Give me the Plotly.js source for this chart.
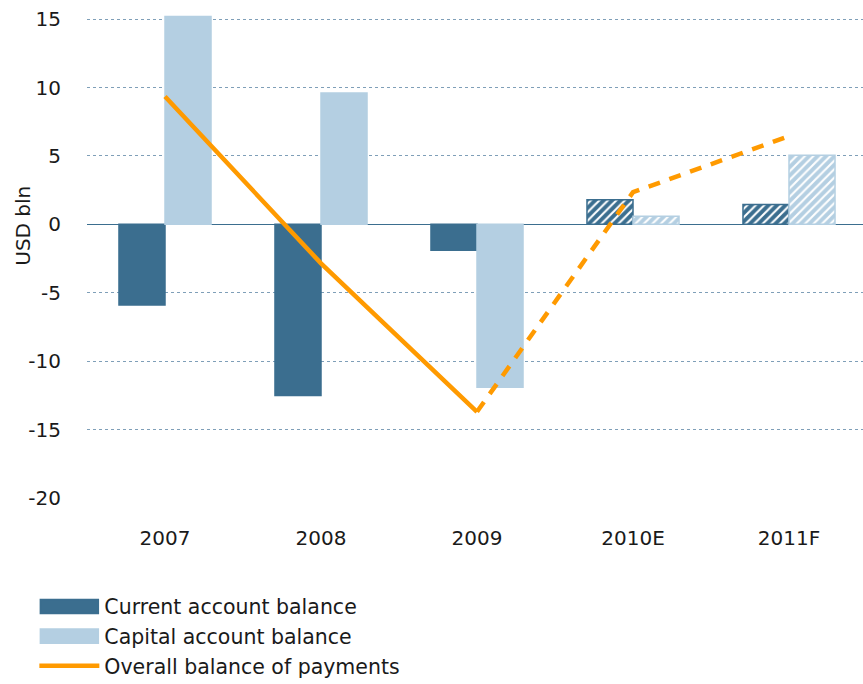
<!DOCTYPE html>
<html><head><meta charset="utf-8">
<script src="https://cdn.plot.ly/plotly-3.0.1.min.js"></script>
<style>html,body{margin:0;padding:0;background:#fff;overflow:hidden}#chart{width:867px;height:684px}</style>
</head><body><div id="chart"></div>
<script>
const categories = ["2007", "2008", "2009", "2010E", "2011F"];
const currentAccount = [-5.9, -12.5, -1.9, 1.8, 1.45];
const capitalAccount = [15.2, 9.6, -11.9, 0.6, 5.05];
const overallBalance = [9.35, -2.85, -13.7, 2.35, 6.45];
const forecastFlags = [false, false, false, true, true];
const yTicks = [15, 10, 5, 0, -5, -10, -15, -20];
const yTitle = "USD bln";

const DARK = "#3b6e8f", LIGHT = "#b4cfe2", ORANGE = "#ff9a00";
const patt = forecastFlags.map(f => f ? "/" : "");
const FONT = "DejaVu Sans, Verdana, sans-serif";

const solidLine = overallBalance.map((v, i) => i <= 2 ? v : null);
const dashLine = overallBalance.map((v, i) => i >= 2 ? v : null);

const traces = [
  {type: "bar", name: "Current account balance", x: categories, y: currentAccount,
   marker: {color: DARK, line: {color: DARK, width: 1.5},
            pattern: {shape: patt, fillmode: "replace", bgcolor: DARK, fgcolor: "#ffffff", size: 6, solidity: 0.35}},
   legendgroup: "a"},
  {type: "bar", name: "Capital account balance", x: categories, y: capitalAccount,
   marker: {color: LIGHT, line: {color: LIGHT, width: 1.5},
            pattern: {shape: patt, fillmode: "replace", bgcolor: LIGHT, fgcolor: "#ffffff", size: 6, solidity: 0.35}},
   legendgroup: "b"},
  {type: "scatter", mode: "lines", name: "Overall balance of payments", x: categories, y: solidLine,
   line: {color: ORANGE, width: 4.5}, legendgroup: "c"},
  {type: "scatter", mode: "lines", name: "Overall balance of payments (forecast)", x: categories, y: dashLine,
   line: {color: ORANGE, width: 4.5, dash: "12px,10px"}, showlegend: false, legendgroup: "c"}
];

const layout = {
  width: 867, height: 684,
  margin: {l: 87, r: 0, t: 0, b: 186, autoexpand: false},
  paper_bgcolor: "#fff", plot_bgcolor: "#fff",
  font: {family: FONT, size: 20, color: "#1a1a1a"},
  barmode: "group", bargap: 0.41, bargroupgap: 0,
  showlegend: true,
  legend: {x: -0.0675, xanchor: "left", y: -0.178, yanchor: "top", orientation: "v",
           traceorder: "normal", tracegroupgap: 11, itemwidth: 60,
           font: {family: FONT, size: 20.5, color: "#1a1a1a"}},
  xaxis: {type: "category", showgrid: false, zeroline: false, showline: false,
          ticks: "", ticklabelstandoff: 26, tickfont: {size: 20}, automargin: false},
  yaxis: {range: [-20, 16.4], tickvals: yTicks, ticktext: yTicks.map(String),
          showgrid: true, gridcolor: "#7f9fb8", griddash: "dot", gridwidth: 1,
          zeroline: true, zerolinecolor: DARK, zerolinewidth: 1, automargin: false,
          showline: false, ticks: "", ticklabelstandoff: 25, tickfont: {size: 20}},
  annotations: [{text: yTitle, xref: "paper", yref: "y", x: 0, y: -0.1, xshift: -64,
                 xanchor: "center", yanchor: "middle", textangle: -90, showarrow: false,
                 font: {family: FONT, size: 20, color: "#1a1a1a"}}]
};

function widenLegendBars() {
  document.querySelectorAll(".legend g.traces").forEach(g => {
    g.querySelectorAll("g.legendpoints path").forEach(p => {
      const d = p.getAttribute("d") || "";
      if (/H/.test(d) && /V/.test(d) && !p.dataset.wide) {
        p.dataset.wide = "1";
        const t = p.getAttribute("transform") || "";
        p.setAttribute("transform", t + " scale(4.83,1.17)");
        p.setAttribute("vector-effect", "non-scaling-stroke");
      }
    });
  });
}

Plotly.newPlot("chart", traces, layout, {displayModeBar: false, staticPlot: true}).then(() => {
  widenLegendBars();
  setTimeout(widenLegendBars, 50);
});
</script></body></html>
